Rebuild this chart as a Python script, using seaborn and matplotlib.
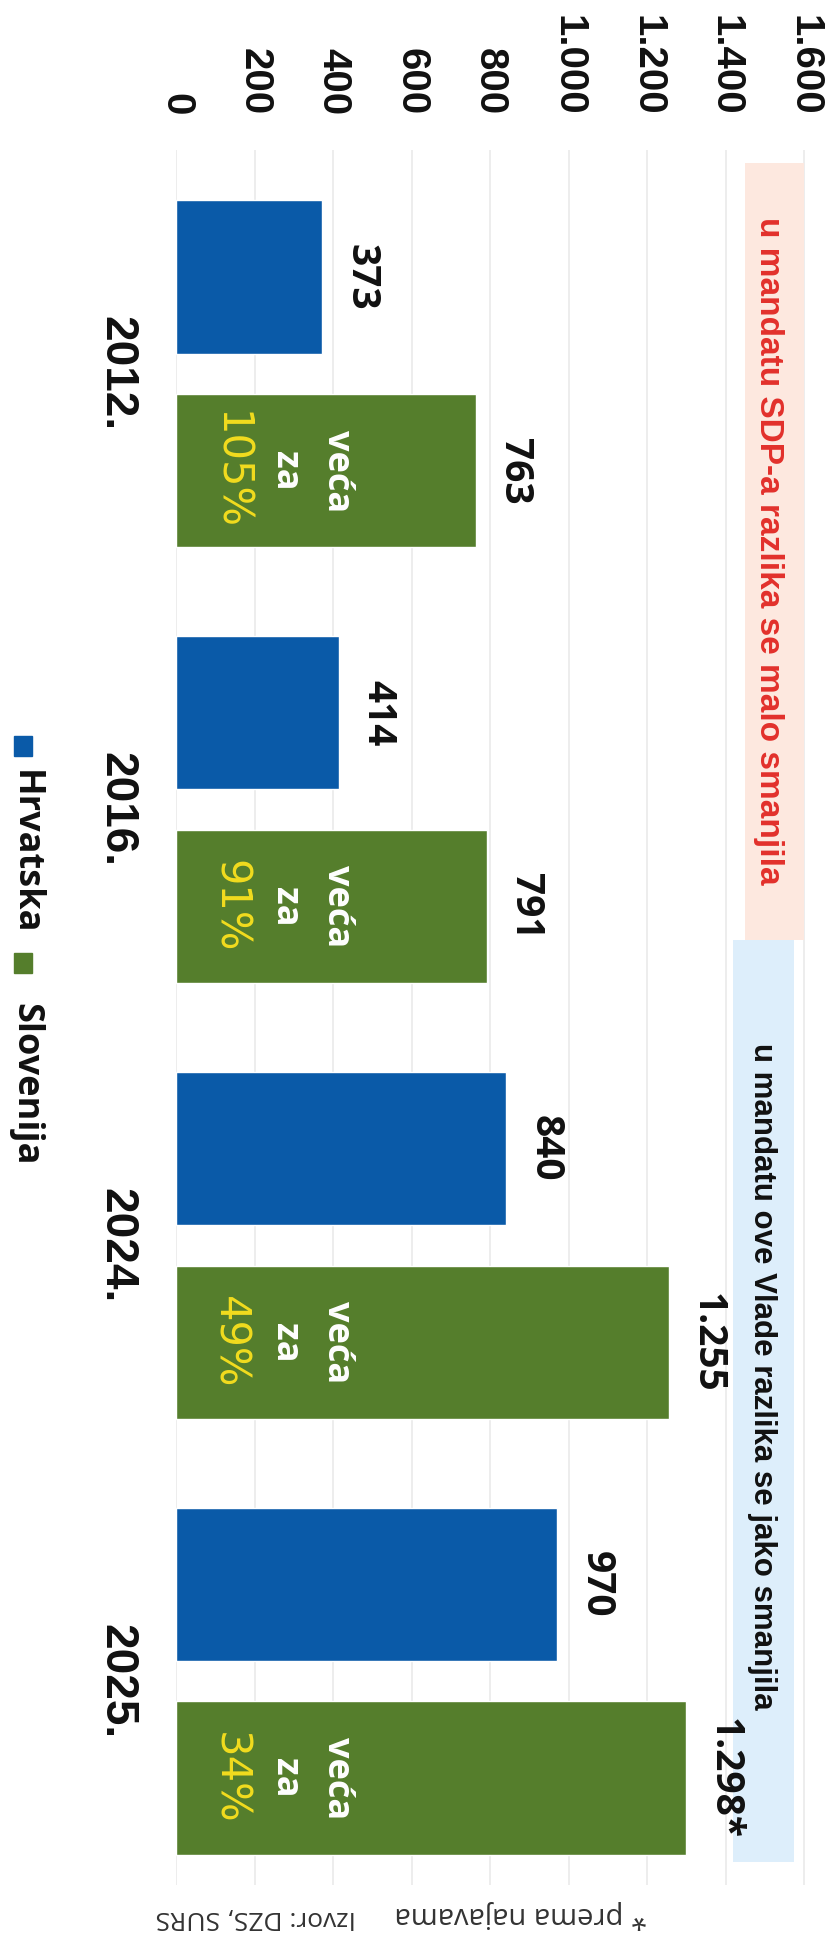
import matplotlib
matplotlib.use("Agg")
import matplotlib.pyplot as plt
from matplotlib import font_manager
from matplotlib.patches import Rectangle
import pandas as pd
import seaborn as sns

years = ["2012.", "2016.", "2024.", "2025."]
hrvatska = [373, 414, 840, 970]
slovenija = [763, 791, 1255, 1298]
countries = ["Hrvatska", "Slovenija"]
is_estimate = [False, False, False, True]  # 2025 Slovenia = "prema najavama"
x_ticks = [0, 200, 400, 600, 800, 1000, 1200, 1400, 1600]
x_tick_labels = ["0", "200", "400", "600", "800", "1.000", "1.200", "1.400", "1.600"]
band_texts = ["u mandatu SDP-a razlika se malo smanjila",
              "u mandatu ove Vlade razlika se jako smanjila"]
source_text = "Izvor: DZS, SURS"
note_text = "* prema najavama"

BLUE = "#0A5AA8"
GREEN = "#557E2C"
YELLOW = "#F2DC1E"
RED = "#E2302B"
PINK_BAND = "#FDE8DF"
BLUE_BAND = "#DDEEFB"

W, H = 834, 1936


def fmt(v):
    return f"{v:,}".replace(",", ".")


def px(x, y):
    # pixel position (from top-left) -> figure fraction
    return x / W, 1 - y / H


sns.set_style("white")
plt.rcParams["font.family"] = ["Liberation Sans", "DejaVu Sans"]
installed = {f.name for f in font_manager.fontManager.ttflist}
narrow = "Liberation Sans Narrow" if "Liberation Sans Narrow" in installed else "Liberation Sans"
band_size = 32 if narrow == "Liberation Sans Narrow" else 24

df = pd.DataFrame({
    "year": years * 2,
    "value": hrvatska + slovenija,
    "country": [countries[0]] * len(years) + [countries[1]] * len(years),
})

fig = plt.figure(figsize=(W / 100, H / 100), dpi=100)
ax = fig.add_axes([176 / W, 1 - 1885 / H, (812 - 176) / W, (1885 - 150) / H])

sns.barplot(data=df, x="value", y="year", hue="country", hue_order=countries,
            palette=[BLUE, GREEN], orient="h", width=0.89, gap=0.21,
            saturation=1, legend=False, ax=ax, zorder=3)

ax.set_xlim(0, 1620)
ax.set_ylim(3.468, -0.514)

# coloured header bands (right side = top of the original chart)
ax.add_patch(Rectangle((1450, -0.484), 150, 1.782, color=PINK_BAND, zorder=1, lw=0))
ax.add_patch(Rectangle((1420, 1.298), 155, 2.117, color=BLUE_BAND, zorder=1, lw=0))
ax.text(1508, 0.407, band_texts[0], rotation=-90, ha="center", va="center",
        color=RED, fontsize=band_size, fontweight="bold", family=narrow, zorder=4)
ax.text(1492, 2.30, band_texts[1], rotation=-90, ha="center", va="center",
        color="#111111", fontsize=band_size - 1.5, fontweight="bold", family=narrow, zorder=4)

ax.xaxis.tick_top()
ax.set_xticks(x_ticks)
ax.set_xticklabels(x_tick_labels, rotation=-90, fontsize=29, fontweight="bold")
ax.set_yticks(range(len(years)))
ax.set_yticklabels(years, rotation=-90, fontsize=33, fontweight="bold", va="center")
ax.tick_params(axis="x", length=0, pad=25, colors="#111111")
ax.tick_params(axis="y", length=0, pad=27, colors="#111111")
ax.set_xlabel("")
ax.set_ylabel("")
ax.grid(axis="x", color="#ececec", lw=1.3, zorder=0)
ax.grid(axis="y", visible=False)
ax.set_axisbelow(True)
for s in ax.spines.values():
    s.set_visible(False)

hr_bars, si_bars = ax.containers[0], ax.containers[1]
ax.bar_label(hr_bars, labels=[fmt(v) for v in hrvatska], padding=14, rotation=-90,
             fontsize=28, fontweight="bold", family="Open Sans", color="#111111")
ax.bar_label(si_bars, labels=[fmt(v) + ("*" if e else "") for v, e in zip(slovenija, is_estimate)],
             padding=14, rotation=-90, fontsize=28, fontweight="bold",
             family="Open Sans", color="#111111")

for bar, h, s in zip(si_bars, hrvatska, slovenija):
    yc = bar.get_y() + bar.get_height() / 2
    pct = f"{round((s / h - 1) * 100)}%"
    ax.text(410, yc, "veća", rotation=-90, ha="center", va="center", color="white",
            fontsize=26, fontweight="bold", family="Open Sans", zorder=4)
    ax.text(278, yc, "za", rotation=-90, ha="center", va="center", color="white",
            fontsize=26, fontweight="bold", family="Open Sans", zorder=4)
    ax.text(137, yc, pct, rotation=-90, ha="center", va="center", color=YELLOW,
            fontsize=30, family="DejaVu Sans", zorder=4)

# legend, drawn rotated like the rest of the graphic
for (cx, cy), color in zip([(23, 746), (23, 963)], [BLUE, GREEN]):
    x0, y0 = px(cx - 9, cy + 10)
    fig.add_artist(Rectangle((x0, y0), 18 / W, 20 / H, color=color,
                             transform=fig.transFigure))
for (cx, cy), name in zip([(25, 852), (25, 1084)], countries):
    fig.text(*px(cx, cy), name, rotation=-90, ha="center", va="center",
             fontsize=26, fontweight="bold", family="Open Sans", color="#111111")

# upside-down footnotes
fig.text(*px(256, 1918), source_text, rotation=180, ha="center", va="center",
         fontsize=19, family="Open Sans", color="#333333")
fig.text(*px(521, 1915), note_text, rotation=180, ha="center", va="center",
         fontsize=21, family="Open Sans", color="#333333")

fig.savefig("out.png", dpi=100)
